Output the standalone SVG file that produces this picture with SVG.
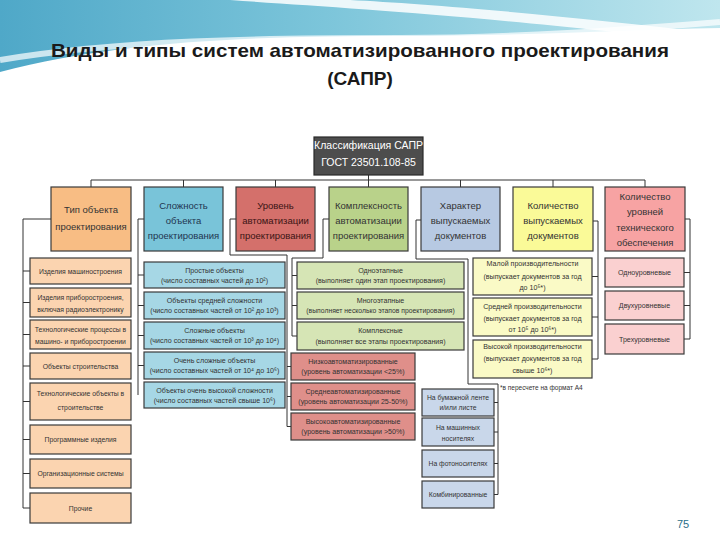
<svg xmlns="http://www.w3.org/2000/svg" width="720" height="540" viewBox="0 0 720 540">
<style>
.t{font-family:"Liberation Sans",Arial,sans-serif;text-anchor:middle;fill:#333}
.h{font-size:9.5px}
.c{font-size:7.1px}
.c1{font-size:6.8px}
.b{stroke:#3a3a3a;stroke-width:1.2}
.ln{fill:none;stroke:#333;stroke-width:1}
.o1{fill:#f8bd84}.o2{fill:#fbd4b0}
.u1{fill:#79c4d9}.u2{fill:#a6d7e5}
.r1{fill:#d4706b}.r2{fill:#df8f8a}
.g1{fill:#b9d28a}.g2{fill:#d6e5b5}
.s1{fill:#b7c9e2}.s2{fill:#c9d7ea}
.y1{fill:#fafa98}.y2{fill:#fafac6}
.p1{fill:#f7a3a3}.p2{fill:#fad0d0}
</style>
<defs>
<linearGradient id="bg" x1="0" y1="0" x2="1" y2="0">
<stop offset="0" stop-color="#4fa8c8"/>
<stop offset="0.45" stop-color="#7cc5da"/>
<stop offset="1" stop-color="#bfe6ee"/>
</linearGradient>
</defs>
<rect width="720" height="540" fill="#ffffff"/>
<g id="background">
<path d="M0,0 H720 V28 C620,30 520,36 400,36 C260,36 120,40 0,72 Z" fill="url(#bg)"/>
<path d="M230,0 C340,8 470,14 720,44 V34 C570,16 430,4 350,0 Z" fill="#ffffff" opacity="0.85"/>
<path d="M0,60 C120,40 260,38 400,38 C520,38 620,30 720,22" fill="none" stroke="#ffffff" stroke-width="6" opacity="0.7"/>
</g>
<g id="title" font-family="Liberation Sans,Arial,sans-serif" font-weight="bold" font-size="19" fill="#1a1a1a" text-anchor="middle">
<text x="360" y="57" textLength="618" lengthAdjust="spacingAndGlyphs">Виды и типы систем автоматизированного проектирования</text>
<text x="360" y="85">(САПР)</text>
</g>
<g id="connectors">
<path class="ln" d="M368.5,175 V187 M91,187 V180 H645 V187 M183.5,180 V187 M275.5,180 V187 M460.5,180 V187 M553,180 V187"/>
<path class="ln" d="M51,219 H23 V508 M23,271 H30 M23,302.5 H30 M23,334.5 H30 M23,366 H30 M23,401.5 H30 M23,439.5 H30 M23,473.5 H30 M23,508 H30"/>
<path class="ln" d="M144,219 H138 V395 M138,275 H144 M138,305.5 H144 M138,335.5 H144 M138,365.5 H144"/>
<path class="ln" d="M236,219 H230 V255 H287 V426.5 M287,366.5 H291 M287,396.5 H291 M287,426.5 H291"/>
<path class="ln" d="M329,219 H323 V258 H292 V336 H297 M292,275.5 H297 M292,305.5 H297"/>
<path class="ln" d="M421,220 H416 V259 H468 V384 H498 V494.5 H494 M494,402.5 H498 M494,432 H498 M494,463.5 H498"/>
<path class="ln" d="M593,221 H598 V359 H592 M592,276.5 H598 M592,317 H598"/>
<path class="ln" d="M685,219 H690 V339 H684 M684,272.5 H690 M684,305.5 H690"/>
</g>
<g id="root">
<rect x="314" y="137" width="109" height="38" fill="#4d4d4d" stroke="#2a2a2a" stroke-width="1.2"/>
<text class="t" x="368.5" y="149" font-size="10.5" style="fill:#ffffff">Классификация САПР</text>
<text class="t" x="368.5" y="166" font-size="10.5" style="fill:#ffffff">ГОСТ 23501.108-85</text>
</g>
<g id="h1"><rect class="b o1" x="51" y="187" width="80" height="64"/>
<text class="t h" x="91" y="213">Тип объекта</text><text class="t h" x="91" y="230">проектирования</text></g>
<g id="h2"><rect class="b u1" x="144" y="187" width="79" height="64"/>
<text class="t h" x="183.5" y="208.5" style="fill:#1f3550">Сложность</text><text class="t h" x="183.5" y="223.5" style="fill:#1f3550">объекта</text><text class="t h" x="183.5" y="238.5" style="fill:#1f3550">проектирования</text></g>
<g id="h3"><rect class="b r1" x="236" y="187" width="79" height="64"/>
<text class="t h" x="275.5" y="208.5" style="fill:#3a1414">Уровень</text><text class="t h" x="275.5" y="223.5" style="fill:#3a1414">автоматизации</text><text class="t h" x="275.5" y="238.5" style="fill:#3a1414">проектирования</text></g>
<g id="h4"><rect class="b g1" x="329" y="187" width="79" height="64"/>
<text class="t h" x="368.5" y="208.5">Комплексность</text><text class="t h" x="368.5" y="223.5">автоматизации</text><text class="t h" x="368.5" y="238.5">проектирования</text></g>
<g id="h5"><rect class="b s1" x="421" y="187" width="79" height="64"/>
<text class="t h" x="460.5" y="208.5">Характер</text><text class="t h" x="460.5" y="223.5">выпускаемых</text><text class="t h" x="460.5" y="238.5">документов</text></g>
<g id="h6"><rect class="b y1" x="513" y="187" width="80" height="64"/>
<text class="t h" x="553" y="208.5">Количество</text><text class="t h" x="553" y="223.5">выпускаемых</text><text class="t h" x="553" y="238.5">документов</text></g>
<g id="h7"><rect class="b p1" x="605" y="187" width="80" height="64"/>
<text class="t h" x="645" y="199.5">Количество</text><text class="t h" x="645" y="214.5">уровней</text><text class="t h" x="645" y="230.5">технического</text><text class="t h" x="645" y="245.5">обеспечения</text></g>

<g id="c1-1"><rect class="b o2" x="30" y="258" width="101" height="26"/><text class="t c1" x="80.5" y="273.5">Изделия машиностроения</text></g>
<g id="c1-2"><rect class="b o2" x="30" y="288" width="101" height="29"/><text class="t c1" x="80.5" y="299.5">Изделия приборостроения,</text><text class="t c1" x="80.5" y="311.5">включая радиоэлектронику</text></g>
<g id="c1-3"><rect class="b o2" x="30" y="320" width="101" height="29"/><text class="t c1" x="80.5" y="331.5">Технологические процессы в</text><text class="t c1" x="80.5" y="343.5">машино- и приборостроении</text></g>
<g id="c1-4"><rect class="b o2" x="30" y="353" width="101" height="26"/><text class="t c1" x="80.5" y="368.5">Объекты строительства</text></g>
<g id="c1-5"><rect class="b o2" x="30" y="383" width="101" height="37"/><text class="t c1" x="80.5" y="395.5">Технологические объекты в</text><text class="t c1" x="80.5" y="409.5">строительстве</text></g>
<g id="c1-6"><rect class="b o2" x="30" y="425" width="101" height="29"/><text class="t c1" x="80.5" y="442">Программные изделия</text></g>
<g id="c1-7"><rect class="b o2" x="30" y="459" width="101" height="29"/><text class="t c1" x="80.5" y="476">Организационные системы</text></g>
<g id="c1-8"><rect class="b o2" x="30" y="493" width="101" height="30"/><text class="t c1" x="80.5" y="510.5">Прочие</text></g>

<g id="c2-1"><rect class="b u2" x="144" y="262" width="141" height="26"/><text class="t c" x="214.5" y="272.5">Простые объекты</text><text class="t c" x="214.5" y="283">(число составных частей до 10²)</text></g>
<g id="c2-2"><rect class="b u2" x="144" y="292" width="141" height="27"/><text class="t c" x="214.5" y="302.5">Объекты средней сложности</text><text class="t c" x="214.5" y="313">(число составных частей от 10² до 10³)</text></g>
<g id="c2-3"><rect class="b u2" x="144" y="322" width="141" height="27"/><text class="t c" x="214.5" y="332.5">Сложные объекты</text><text class="t c" x="214.5" y="343">(число составных частей от 10³ до 10⁴)</text></g>
<g id="c2-4"><rect class="b u2" x="144" y="352" width="141" height="27"/><text class="t c" x="214.5" y="362.5">Очень сложные объекты</text><text class="t c" x="214.5" y="373">(число составных частей от 10⁴ до 10⁶)</text></g>
<g id="c2-5"><rect class="b u2" x="144" y="382" width="141" height="26"/><text class="t c" x="214.5" y="392.5">Объекты очень высокой сложности</text><text class="t c" x="214.5" y="403">(число составных частей свыше 10⁶)</text></g>

<g id="c3-1"><rect class="b r2" x="291" y="353" width="124" height="27"/><text class="t c" x="353" y="363.5">Низкоавтоматизированные</text><text class="t c" x="353" y="374">(уровень автоматизации &lt;25%)</text></g>
<g id="c3-2"><rect class="b r2" x="291" y="383" width="124" height="27"/><text class="t c" x="353" y="393.5">Среднеавтоматизированные</text><text class="t c" x="353" y="404">(уровень автоматизации 25-50%)</text></g>
<g id="c3-3"><rect class="b r2" x="291" y="413" width="124" height="27"/><text class="t c" x="353" y="423.5">Высокоавтоматизированные</text><text class="t c" x="353" y="434">(уровень автоматизации &gt;50%)</text></g>

<g id="c4-1"><rect class="b g2" x="297" y="262" width="167" height="27"/><text class="t c" x="380.5" y="272.5">Одноэтапные</text><text class="t c" x="380.5" y="283">(выполняет один этап проектирования)</text></g>
<g id="c4-2"><rect class="b g2" x="297" y="292" width="167" height="27"/><text class="t c" x="380.5" y="302.5">Многоэтапные</text><text class="t c1" x="380.5" y="313">(выполняет несколько этапов проектирования)</text></g>
<g id="c4-3"><rect class="b g2" x="297" y="322" width="167" height="28"/><text class="t c" x="380.5" y="332.5">Комплексные</text><text class="t c" x="380.5" y="343.5">(выполняет все этапы проектирования)</text></g>

<g id="c5-1"><rect class="b s2" x="422" y="389" width="72" height="27"/><text class="t c1" x="458" y="399.5">На бумажной ленте</text><text class="t c1" x="458" y="410">и/или листе</text></g>
<g id="c5-2"><rect class="b s2" x="422" y="418" width="72" height="28"/><text class="t c1" x="458" y="429.5">На машинных</text><text class="t c1" x="458" y="440.5">носителях</text></g>
<g id="c5-3"><rect class="b s2" x="422" y="450" width="72" height="27"/><text class="t c1" x="458" y="466">На фотоносителях</text></g>
<g id="c5-4"><rect class="b s2" x="422" y="481" width="72" height="27"/><text class="t c1" x="458" y="497">Комбинированные</text></g>

<g id="c6-1"><rect class="b y2" x="473" y="258" width="119" height="37"/><text class="t c" x="532.5" y="265.5">Малой производительности</text><text class="t c" x="532.5" y="278.5">(выпускает документов за год</text><text class="t c" x="532.5" y="290">до 10⁵*)</text></g>
<g id="c6-2"><rect class="b y2" x="473" y="298" width="119" height="38"/><text class="t c" x="532.5" y="308.5">Средней производительности</text><text class="t c" x="532.5" y="320.5">(выпускает документов за год</text><text class="t c" x="532.5" y="331.5">от 10⁵ до 10⁶*)</text></g>
<g id="c6-3"><rect class="b y2" x="473" y="340" width="119" height="38"/><text class="t c" x="532.5" y="348.5">Высокой производительности</text><text class="t c" x="532.5" y="360.5">(выпускает документов за год</text><text class="t c" x="532.5" y="372.5">свыше 10⁶*)</text></g>

<g id="c7-1"><rect class="b p2" x="605" y="258" width="79" height="29"/><text class="t c" x="644.5" y="275">Одноуровневые</text></g>
<g id="c7-2"><rect class="b p2" x="605" y="291" width="79" height="29"/><text class="t c" x="644.5" y="308">Двухуровневые</text></g>
<g id="c7-3"><rect class="b p2" x="605" y="324" width="79" height="30"/><text class="t c" x="644.5" y="341.5">Трехуровневые</text></g>

<text class="t" x="500" y="390" font-size="6.5" style="text-anchor:start">*в пересчете на формат А4</text>
<text x="683" y="528" font-family="Liberation Sans,Arial,sans-serif" font-size="11" fill="#2a6f8a" text-anchor="middle">75</text>
</svg>
